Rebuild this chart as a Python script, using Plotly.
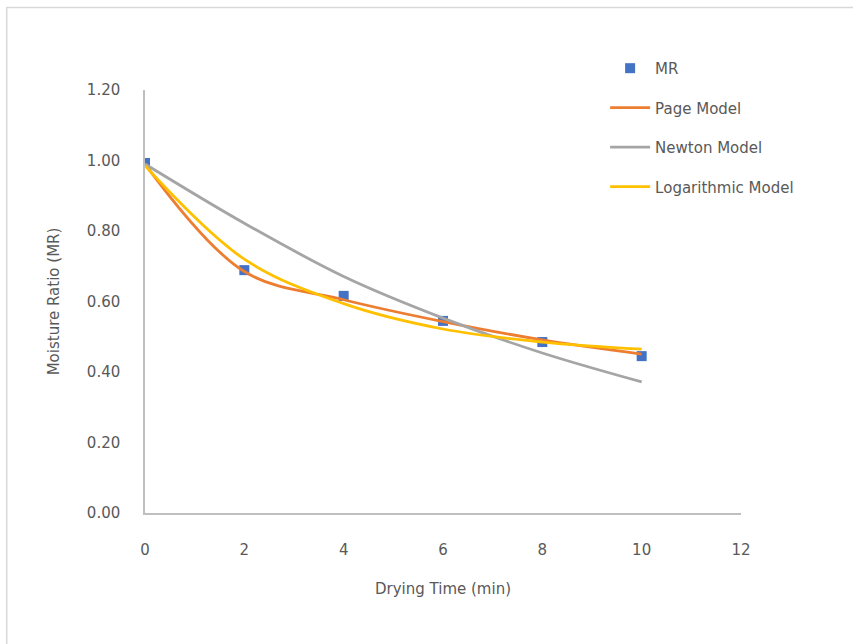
import plotly.graph_objects as go

time_min = [0, 2, 4, 6, 8, 10]
mr_obs = [0.993, 0.689, 0.616, 0.545, 0.485, 0.445]
page_model = [0.99, 0.685, 0.605, 0.543, 0.491, 0.451]
newton_model = [0.99, 0.822, 0.671, 0.553, 0.454, 0.372]
log_model = [0.985, 0.72, 0.594, 0.522, 0.485, 0.465]

x_ticks = [0, 2, 4, 6, 8, 10, 12]
y_ticks = [0, 0.2, 0.4, 0.6, 0.8, 1.0, 1.2]
y_tick_labels = ["0.00", "0.20", "0.40", "0.60", "0.80", "1.00", "1.20"]

FONT = "DejaVu Sans"
TXT = "#595959"
FS = 15

fig = go.Figure()
fig.add_trace(go.Scatter(x=time_min, y=mr_obs, mode="markers", name="MR",
                         marker=dict(symbol="square", size=10, color="#4472C4"),
                         legendgroup="a"))
fig.add_trace(go.Scatter(x=time_min, y=page_model, mode="lines", name="Page Model",
                         line=dict(color="#ED7D31", width=2.8, shape="spline", smoothing=1),
                         legendgroup="b"))
fig.add_trace(go.Scatter(x=time_min, y=newton_model, mode="lines", name="Newton Model",
                         line=dict(color="#A5A5A5", width=2.8, shape="spline", smoothing=1),
                         legendgroup="c"))
fig.add_trace(go.Scatter(x=time_min, y=log_model, mode="lines", name="Logarithmic Model",
                         line=dict(color="#FFC000", width=2.8, shape="spline", smoothing=1),
                         legendgroup="d"))

fig.update_layout(
    width=853, height=644,
    margin=dict(l=145, r=112, t=90, b=131),
    paper_bgcolor="white", plot_bgcolor="white",
    font=dict(family=FONT, size=FS, color=TXT),
    showlegend=True,
    legend=dict(x=0.772, y=1.09, xanchor="left", yanchor="top",
                bgcolor="rgba(0,0,0,0)", tracegroupgap=17, itemwidth=40,
                font=dict(family=FONT, size=FS, color=TXT)),
    xaxis=dict(range=[0, 12], tickvals=x_ticks, showgrid=False, zeroline=False,
               showline=True, linecolor="#BFBFBF", linewidth=1.5, ticks="",
               ticklabelstandoff=22,
               title=dict(text="Drying Time (min)", standoff=26,
                          font=dict(family=FONT, size=FS, color=TXT))),
    yaxis=dict(range=[0, 1.2], tickvals=y_ticks, ticktext=y_tick_labels,
               showgrid=False, zeroline=False,
               showline=True, linecolor="#BFBFBF", linewidth=1.5, ticks="",
               ticklabelstandoff=20,
               title=dict(text="Moisture Ratio (MR)", standoff=24,
                          font=dict(family=FONT, size=FS, color=TXT))),
    shapes=[dict(type="rect", xref="paper", yref="paper",
                 x0=-0.232, x1=1.3, y0=-0.4, y1=1.195,
                 line=dict(color="#D9D9D9", width=1.5), fillcolor="rgba(0,0,0,0)",
                 layer="below")],
)

fig.write_html("out.html")
